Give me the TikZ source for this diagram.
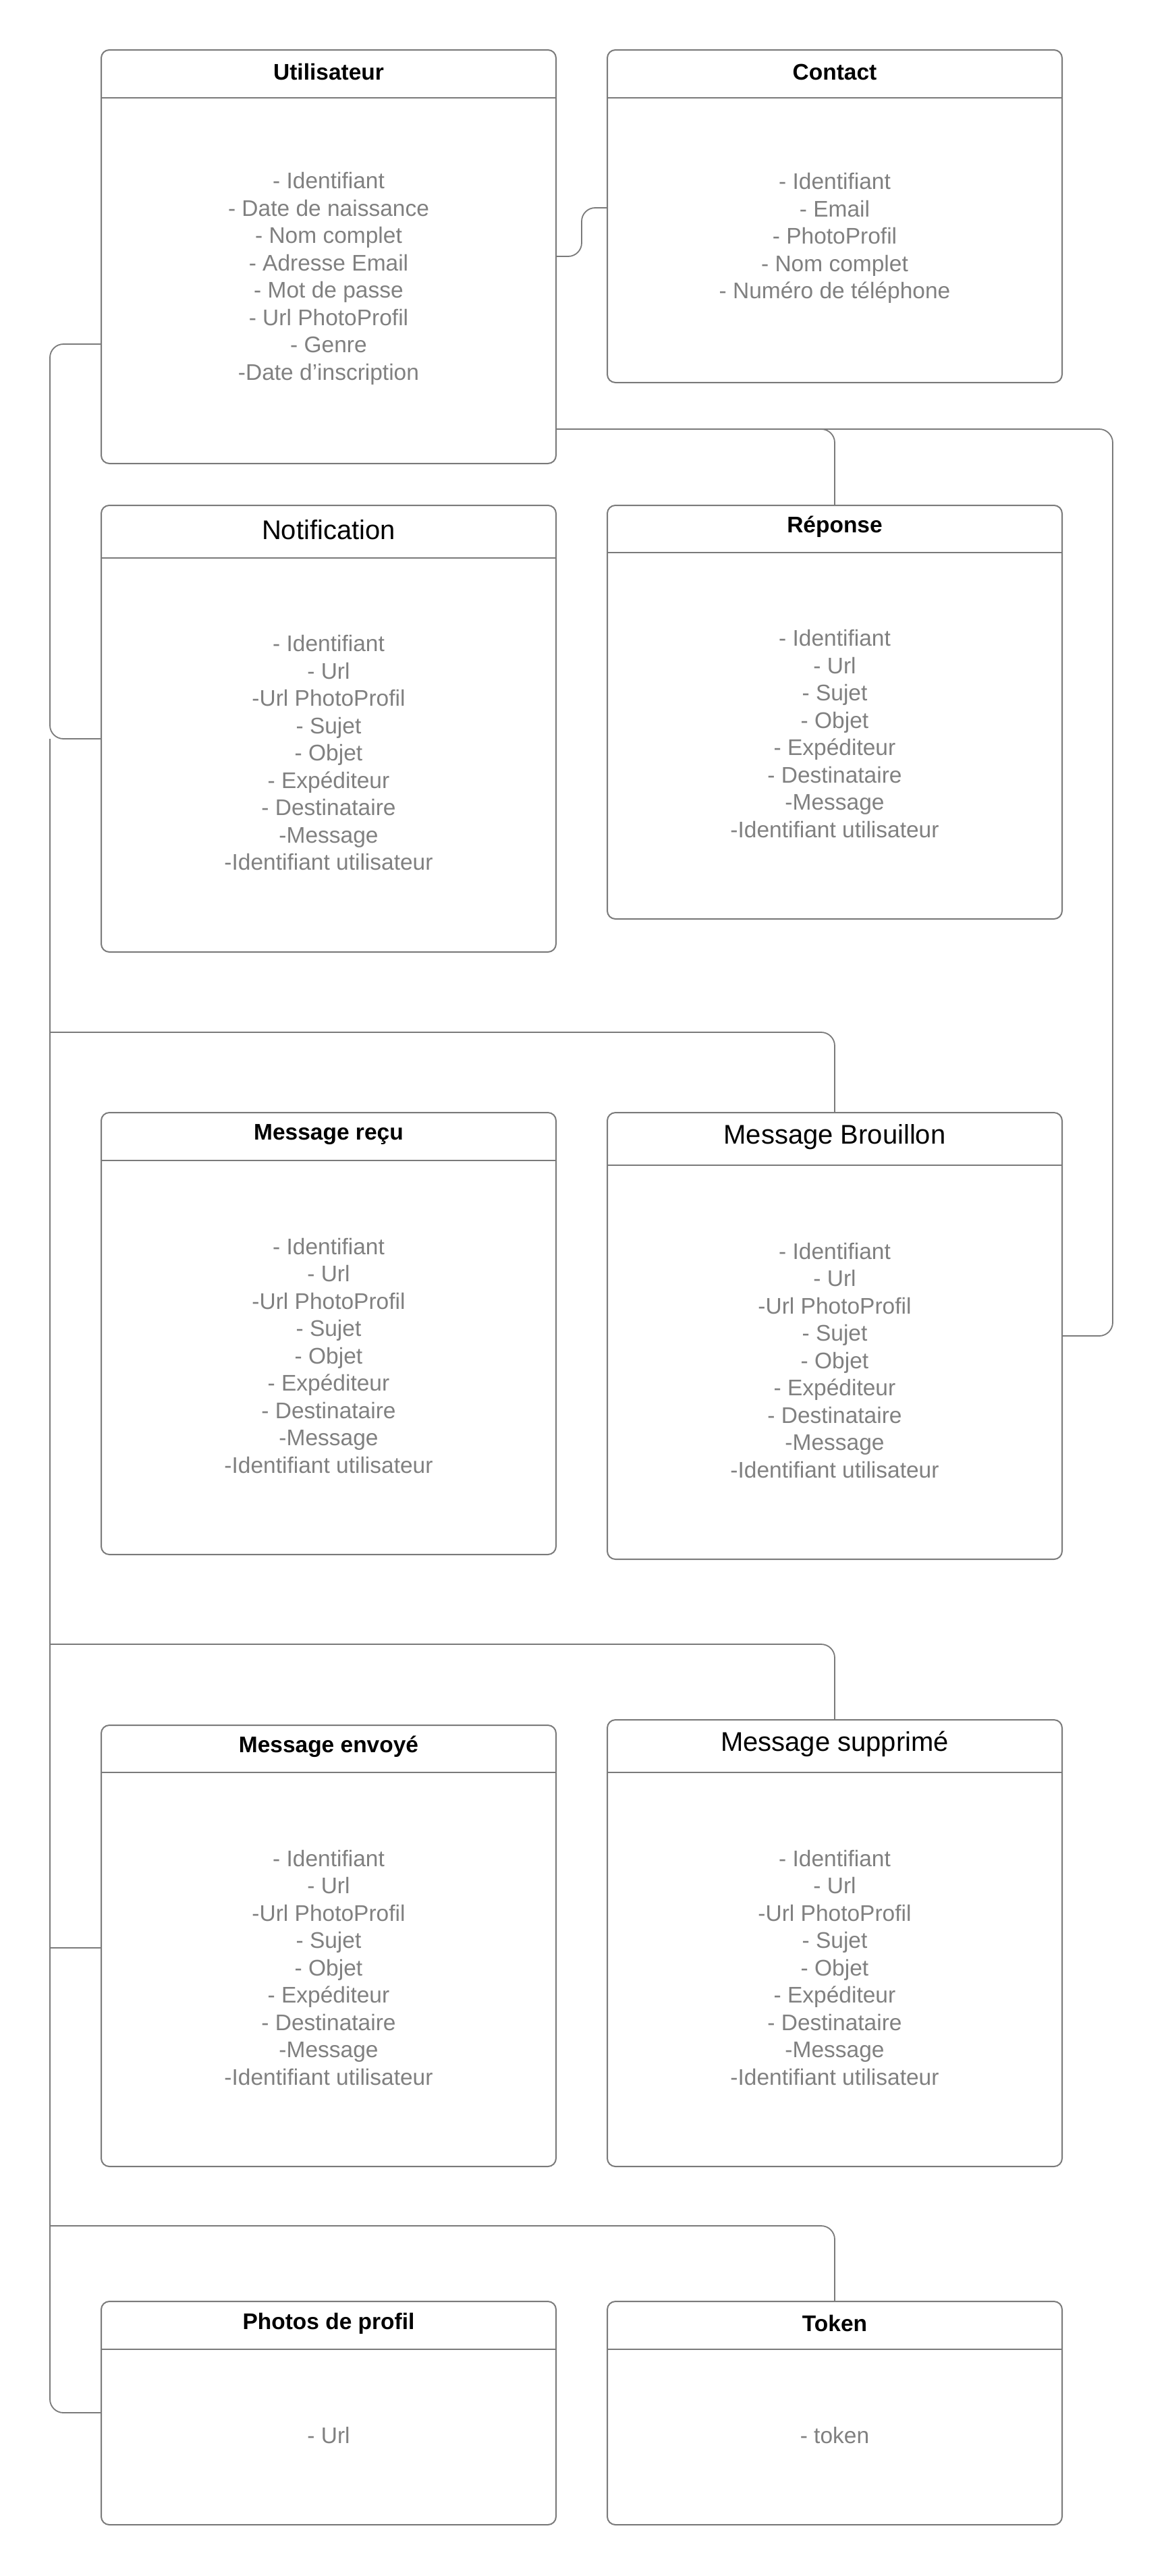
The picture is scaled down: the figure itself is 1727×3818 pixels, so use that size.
\documentclass[tikz,border=0pt]{standalone}
\usepackage{fontspec}
\setmainfont{Liberation Sans}
\definecolor{lineg}{HTML}{7A7A7A}
\definecolor{txtg}{HTML}{808080}
\tikzset{
  box/.style={draw=lineg, line width=2pt, rounded corners=12pt, inner sep=0pt, outer sep=0pt, anchor=north west},
  hline/.style={draw=lineg, line width=2pt},
  conn/.style={draw=lineg, line width=1.8pt, rounded corners=20pt},
  ttlb/.style={font=\fontsize{33.5}{40.5}\selectfont\bfseries, text=black, inner sep=0pt},
  ttlr/.style={font=\fontsize{40}{48}\selectfont, text=black, inner sep=0pt},
  bodytxt/.style={font=\fontsize{33.5}{40.5}\selectfont, text=txtg, align=center, inner sep=0pt},
}
% #1 name, #2 x-left, #3 y-top, #4 y-bottom, #5 y-header, #6 title style, #7 title, #8 body
\newcommand{\umlclass}[8]{%
  \node[box, minimum width=674pt, minimum height={#4pt-#3pt}] (#1) at (#2,#3) {};
  \draw[hline] (#2,#5) -- ++(674,0);
  \node[#6] (#1-t) at (#2+337,{(#3+#5)/2-3}) {#7};
  \node[bodytxt] (#1-b) at (#2+337,{(#5+#4)/2-3}) {#8};
}
\newcommand{\msgbody}{- Identifiant\\- Url\\-Url PhotoProfil\\- Sujet\\- Objet\\- Expéditeur\\- Destinataire\\-Message\\-Identifiant utilisateur}
\begin{document}
\begin{tikzpicture}[x=1pt,y=-1pt]
\useasboundingbox (0,0) rectangle (1727,3818);

\umlclass{util}{150}{74}{687}{145}{ttlb}{Utilisateur}{- Identifiant\\- Date de naissance\\- Nom complet\\- Adresse Email\\- Mot de passe\\- Url PhotoProfil\\- Genre\\-Date d\symbol{39}inscription}
\umlclass{contact}{900}{74}{567}{145}{ttlb}{Contact}{- Identifiant\\- Email\\- PhotoProfil\\- Nom complet\\- Numéro de téléphone}
\umlclass{notif}{150}{749}{1411}{827}{ttlr}{Notification}{\msgbody}
\umlclass{reponse}{900}{749}{1362}{819}{ttlb}{Réponse}{- Identifiant\\- Url\\- Sujet\\- Objet\\- Expéditeur\\- Destinataire\\-Message\\-Identifiant utilisateur}
\umlclass{recu}{150}{1649}{2304}{1720}{ttlb}{Message reçu}{\msgbody}
\umlclass{brouillon}{900}{1649}{2311}{1727}{ttlr}{Message Brouillon}{\msgbody}
\umlclass{envoye}{150}{2557}{3211}{2627}{ttlb}{Message envoyé}{\msgbody}
\umlclass{supprime}{900}{2549}{3211}{2627}{ttlr}{Message supprimé}{\msgbody}
\umlclass{photos}{150}{3411}{3742}{3482}{ttlb}{Photos de profil}{- Url}
\umlclass{token}{900}{3411}{3742}{3482}{ttlb}{Token}{- token}

% connectors
\draw[conn] (util.east |- 0,380) -- (862,380) -- (862,308) -- (contact.west |- 0,308);
\draw[conn] (util.east |- 0,636) -- (reponse.north |- 0,636) -- (reponse.north);
\draw[conn] (util.east |- 0,636) -- (1649,636) -- (1649,1980) -- (brouillon.east |- 0,1980);
\draw[conn] (util.west |- 0,510) -- (74,510) -- (74,1095) -- (notif.west |- 0,1095);

\coordinate (j0) at (74,1095);
\coordinate (j1) at (74,1530);
\coordinate (j2) at (74,2437);
\coordinate (j3) at (74,2887);
\coordinate (j4) at (74,3299);
\draw[conn] (j0) -- (74,3576) -- (photos.west |- 0,3576);
\draw[conn] (j1) -- (brouillon.north |- j1) -- (brouillon.north);
\draw[conn] (j2) -- (supprime.north |- j2) -- (supprime.north);
\draw[conn] (j3) -- (envoye.west |- j3);
\draw[conn] (j4) -- (token.north |- j4) -- (token.north);
\end{tikzpicture}
\end{document}
